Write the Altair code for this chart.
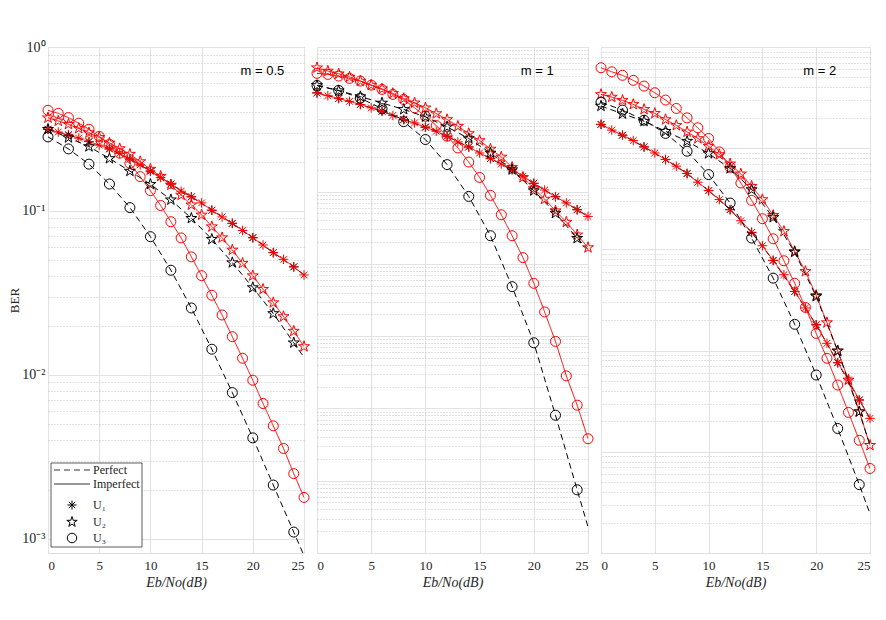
import altair as alt
import pandas as pd

# ---------------- data ----------------
X_IMP = list(range(26))
X_PERF = [0, 2, 4, 6, 8, 10, 12, 14, 16, 18, 20, 22, 24, 25]
USERS = ["U₁", "U₂", "U₃"]
TYPES = ["Perfect", "Imperfect"]
TYPE_COLORS = {"Perfect": "#000000", "Imperfect": "#ff0000"}
PANEL_LABELS = ["m = 0.5", "m = 1", "m = 2"]

# m = 0.5
M05_IMP_U1 = [0.315, 0.303, 0.291, 0.278, 0.265, 0.252, 0.239, 0.224, 0.2075, 0.191, 0.175, 0.160, 0.146,
              0.132, 0.122, 0.112, 0.101, 0.092, 0.084, 0.076, 0.0687, 0.062, 0.0557, 0.0507, 0.0456, 0.0407]
M05_IMP_U2 = [0.370, 0.354, 0.338, 0.319, 0.300, 0.281, 0.260, 0.240, 0.222, 0.200, 0.180, 0.163, 0.144,
              0.125, 0.109, 0.0946, 0.0802, 0.0687, 0.0578, 0.048, 0.0403, 0.0333, 0.0276, 0.0227, 0.0185, 0.0149]
M05_IMP_U3 = [0.411, 0.394, 0.371, 0.343, 0.315, 0.285, 0.255, 0.225, 0.195, 0.162, 0.133, 0.108, 0.086,
              0.0685, 0.0525, 0.0403, 0.0306, 0.0232, 0.0171, 0.01264, 0.00928, 0.00669, 0.00489, 0.00356,
              0.00250, 0.00179]
M05_PERF_U1 = [0.315, 0.291, 0.265, 0.239, 0.2075, 0.175, 0.146, 0.122, 0.101, 0.084, 0.0687, 0.0557, 0.0456, 0.0407]
M05_PERF_U2 = [0.315, 0.280, 0.247, 0.209, 0.175, 0.1455, 0.117, 0.0902, 0.0672, 0.0484, 0.0341, 0.0237, 0.0157, 0.0128]
M05_PERF_U3 = [0.283, 0.239, 0.193, 0.146, 0.1048, 0.0697, 0.0435, 0.0256, 0.01435, 0.0078, 0.00413, 0.00213,
               0.00110, 0.00079]

# m = 1
M1_IMP_U1 = [0.232, 0.212, 0.194, 0.177, 0.160, 0.144, 0.1295, 0.113, 0.0993, 0.0891, 0.0777, 0.0684, 0.0583,
             0.0486, 0.0414, 0.0342, 0.0286, 0.0241, 0.0201, 0.0163, 0.0130, 0.0105, 0.0085, 0.00697, 0.00561, 0.00453]
M1_IMP_U2 = [0.516, 0.465, 0.426, 0.384, 0.338, 0.297, 0.264, 0.228, 0.194, 0.169, 0.144, 0.120, 0.0993,
             0.0802, 0.0635, 0.0508, 0.0388, 0.0301, 0.0217, 0.0157, 0.0110, 0.00787, 0.00543, 0.00378, 0.00252,
             0.00168]
M1_IMP_U3 = [0.432, 0.418, 0.396, 0.368, 0.338, 0.297, 0.259, 0.221, 0.188, 0.144, 0.110, 0.0820, 0.0583,
             0.0401, 0.0256, 0.0157, 0.00886, 0.00478, 0.00245, 0.00122, 5.38e-4, 2.16e-4, 8.45e-5, 2.82e-5,
             1.11e-5, 3.81e-6]
M1_PERF_U1 = [0.232, 0.194, 0.160, 0.1295, 0.0993, 0.0777, 0.0583, 0.0414, 0.0286, 0.0201, 0.0130, 0.0085, 0.00561, 0.00453]
M1_PERF_U2 = [0.294, 0.249, 0.206, 0.168, 0.137, 0.108, 0.0785, 0.0542, 0.0342, 0.0201, 0.0103, 0.00503, 0.00226, 0.00158]
M1_PERF_U3 = [0.294, 0.251, 0.196, 0.140, 0.0927, 0.0525, 0.0236, 0.00857, 0.00245, 4.84e-4, 8.10e-5, 8.05e-6,
              7.48e-7, 2.3e-7]

# m = 2
M2_IMP_U1 = [0.172, 0.151, 0.1345, 0.119, 0.103, 0.0898, 0.0773, 0.0664, 0.0562, 0.0461, 0.0381, 0.0311, 0.0247,
             0.0192, 0.01473, 0.01088, 0.00778, 0.00562, 0.00384, 0.00264, 0.00180, 0.00118, 7.60e-4, 5.13e-4,
             3.25e-4, 2.14e-4]
M2_IMP_U2 = [0.340, 0.320, 0.297, 0.271, 0.242, 0.221, 0.192, 0.168, 0.145, 0.1248, 0.1047, 0.0866, 0.0700,
             0.0557, 0.0421, 0.0311, 0.0217, 0.01508, 0.00955, 0.00606, 0.00351, 0.00189, 9.93e-4, 5.13e-4,
             2.49e-4, 1.16e-4]
M2_IMP_U3 = [0.624, 0.569, 0.525, 0.468, 0.411, 0.353, 0.299, 0.247, 0.1995, 0.159, 0.1248, 0.0919, 0.0648,
             0.0453, 0.0305, 0.0201, 0.01274, 0.00772, 0.00463, 0.00267, 0.00148, 8.39e-4, 4.57e-4, 2.45e-4,
             1.30e-4, 6.84e-5]
M2_PERF_U1 = [0.172, 0.1345, 0.103, 0.0773, 0.0562, 0.0381, 0.0247, 0.01473, 0.00778, 0.00384, 0.00180, 7.60e-4,
              3.25e-4, 2.14e-4]
M2_PERF_U2 = [0.261, 0.219, 0.185, 0.147, 0.1173, 0.0886, 0.0630, 0.0390, 0.0207, 0.0094, 0.00343, 9.93e-4,
              2.49e-4, 1.16e-4]
M2_PERF_U3 = [0.285, 0.238, 0.189, 0.140, 0.0934, 0.0549, 0.0287, 0.01294, 0.0052, 0.00182, 5.74e-4, 1.70e-4,
              4.74e-5, 2.45e-5]

# ---------------- styling ----------------
SERIF = "Liberation Serif"
SANS = "Liberation Sans"
STAR = ("M0,-1.15L0.258,-0.355L1.094,-0.355L0.418,0.136L0.676,0.93L0,0.439L-0.676,0.93"
        "L-0.418,0.136L-1.094,-0.355L-0.258,-0.355Z")
AST = "M-0.95,0L0.95,0M0,-0.95L0,0.95M-0.67,-0.67L0.67,0.67M-0.67,0.67L0.67,-0.67"
LINE_SYM = "M-3.8,0L3.8,0"
GRID = "#e2e2e2"
MINOR = "#c4c4c4"
TXT = "#262626"


def build_df(perf, imp):
    rows = []
    for u, vals in zip(USERS, imp):
        for x, v in zip(X_IMP, vals):
            rows.append({"x": x, "ber": v, "user": u, "type": "Imperfect",
                         "col": TYPE_COLORS["Imperfect"], "marker": True})
    for u, vals in zip(USERS, perf):
        for x, v in zip(X_PERF, vals):
            rows.append({"x": x, "ber": v, "user": u, "type": "Perfect",
                         "col": TYPE_COLORS["Perfect"], "marker": x % 2 == 0})
    return pd.DataFrame(rows)


def panel(df, label, width, decades, ymin, first):
    height = 506
    xenc = alt.X("x:Q", scale=alt.Scale(domain=[0, 25], nice=False),
                 axis=alt.Axis(values=[0, 5, 10, 15, 20, 25], title="Eb/No(dB)", grid=True, gridColor=GRID,
                               ticks=False, domain=False, labelFont=SERIF, labelFontSize=13, labelColor=TXT,
                               labelPadding=6, titleFont=SERIF, titleFontSize=14, titleFontStyle="italic",
                               titleFontWeight="normal", titleColor=TXT, titlePadding=3))
    yscale = alt.Scale(type="log", domain=[ymin, 1], nice=False)
    major_vals = [10.0 ** (-k) for k in range(0, decades + 1)]
    minor_vals = [m * 10.0 ** (-k) for k in range(1, decades + 1) for m in range(2, 10) if m * 10.0 ** (-k) >= ymin]
    major_kwargs = dict(values=major_vals, orient="left", grid=True, gridColor=GRID, ticks=False, domain=False)
    if first:
        major_kwargs.update(labels=True, title="BER", labelFont=SERIF, labelFontSize=14, labelColor=TXT,
                            labelPadding=3, titleFont=SERIF, titleFontSize=13, titleFontWeight="normal",
                            titleColor=TXT, titlePadding=0,
                            labelExpr="datum.value > 0.5 ? '10⁰' : datum.value > 0.05 ? '10⁻¹' : "
                                      "datum.value > 0.005 ? '10⁻²' : '10⁻³'")
    else:
        major_kwargs.update(labels=False, title=None)
    y_major = alt.Y("ber:Q", scale=yscale, axis=alt.Axis(**major_kwargs))
    y_minor = alt.Y("ber:Q", scale=yscale,
                    axis=alt.Axis(values=minor_vals, orient="right", grid=True, gridColor=MINOR, gridDash=[1, 2],
                                  labels=False, ticks=False, domain=False, title=None))
    y_none = alt.Y("ber:Q", scale=yscale, axis=None)

    color = alt.Color("col:N", scale=None)
    if first:
        dash_leg = alt.Legend(title=None, orient="none", legendX=18, legendY=417, symbolType=LINE_SYM,
                              symbolSize=90, symbolStrokeColor="#333333", symbolStrokeWidth=1,
                              labelFont=SERIF, labelFontSize=12, labelColor=TXT, labelOffset=15,
                              rowPadding=2, padding=0)
        shape_leg = alt.Legend(title=None, orient="none", legendX=18, legendY=452, symbolSize=90,
                               symbolStrokeColor="#000000", symbolStrokeWidth=1, symbolFillColor="transparent",
                               labelFont=SERIF, labelFontSize=12, labelColor=TXT, labelOffset=15,
                               rowPadding=2, padding=0)
        dash = alt.StrokeDash("type:N", scale=alt.Scale(domain=TYPES, range=[[6, 4], [1, 0]]), legend=dash_leg)
        shape = alt.Shape("user:N", scale=alt.Scale(domain=USERS, range=[AST, STAR, "circle"]), legend=shape_leg)
    else:
        dash = alt.StrokeDash("type:N", scale=alt.Scale(domain=TYPES, range=[[6, 4], [1, 0]]), legend=None)
        shape = alt.Shape("user:N", scale=alt.Scale(domain=USERS, range=[AST, STAR, "circle"]), legend=None)

    base = alt.Chart(df)
    perf_u1 = "datum.type == 'Perfect' && datum.user == '%s'" % USERS[0]
    perf_rest = "datum.type == 'Perfect' && datum.user != '%s'" % USERS[0]
    imp = "datum.type == 'Imperfect'"

    def lines(flt, yenc):
        return base.transform_filter(flt).mark_line(strokeWidth=1, clip=True).encode(
            x=xenc, y=yenc, color=color, strokeDash=dash, detail="user:N")

    def points(flt, yenc):
        return base.transform_filter(flt).transform_filter("datum.marker").mark_point(
            filled=False, size=100, strokeWidth=1, opacity=1).encode(
            x=xenc, y=yenc, color=color, shape=shape)

    layers = [
        lines(perf_u1, y_major),
        points(perf_u1, y_minor),
        lines(imp, y_none),
        points(imp, y_none),
        lines(perf_rest, y_none),
        points(perf_rest, y_none),
    ]
    txt = alt.Chart(pd.DataFrame({"label": [label]})).mark_text(
        align="left", baseline="middle", font=SANS, fontSize=13, color="#000000").encode(
        x=alt.value(18.8 / 25 * width), y=alt.value(24), text="label:N")
    layers.append(txt)
    if first:
        box = alt.Chart(pd.DataFrame({"k": [0]})).mark_rect(
            fill="white", stroke="#333333", strokeWidth=0.8).encode(
            x=alt.value(3), x2=alt.value(94), y=alt.value(416), y2=alt.value(500))
        layers.append(box)
    return alt.layer(*layers).resolve_axis(y="independent").properties(width=width, height=height)


p1 = panel(build_df([M05_PERF_U1, M05_PERF_U2, M05_PERF_U3], [M05_IMP_U1, M05_IMP_U2, M05_IMP_U3]),
           PANEL_LABELS[0], 256, 3, 8.2e-4, True)
p2 = panel(build_df([M1_PERF_U1, M1_PERF_U2, M1_PERF_U3], [M1_IMP_U1, M1_IMP_U2, M1_IMP_U3]),
           PANEL_LABELS[1], 271, 7, 1e-7, False)
p3 = panel(build_df([M2_PERF_U1, M2_PERF_U2, M2_PERF_U3], [M2_IMP_U1, M2_IMP_U2, M2_IMP_U3]),
           PANEL_LABELS[2], 269, 5, 1e-5, False)

chart = alt.hconcat(p1, p2, p3, spacing=13, bounds="flush").resolve_scale(
    x="independent", y="independent", strokeDash="independent", shape="independent"
).resolve_legend(
    strokeDash="independent", shape="independent"
).properties(
    padding={"left": 0, "top": 31, "right": 0, "bottom": 0}
).configure_view(stroke="#3a3a3a", strokeWidth=1).configure(background="white")

chart.save("out.html", embed_options={"renderer": "svg", "actions": False})
